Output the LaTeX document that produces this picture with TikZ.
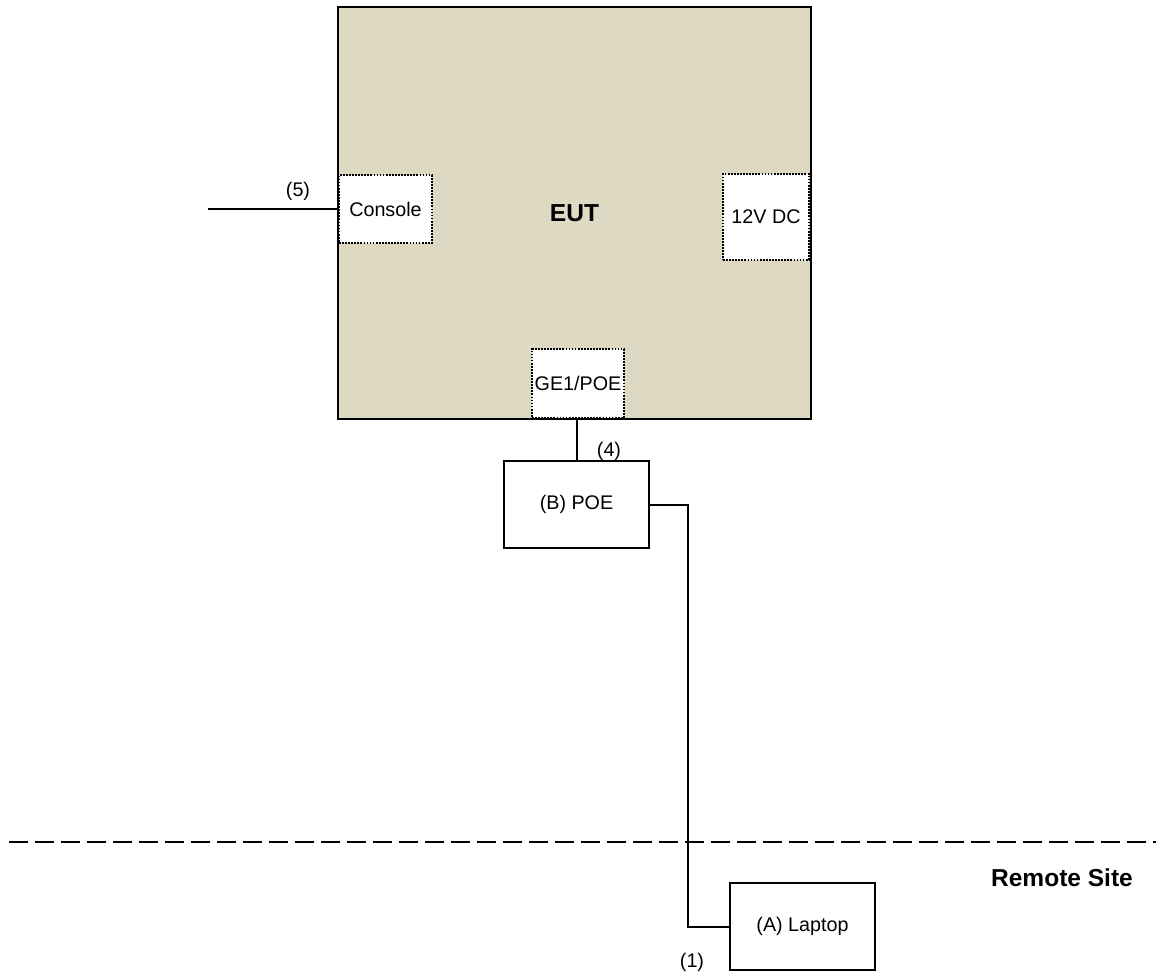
\documentclass[tikz,border=0pt]{standalone}
\usepackage{fontspec}
\setmainfont{Liberation Sans}
\definecolor{eutfill}{RGB}{221,217,195}
\begin{document}
\begin{tikzpicture}[x=0.75pt,y=-0.75pt,
  every node/.style={inner sep=0pt,outer sep=0pt},
  lbl/.style={font=\fontsize{14.8}{17}\selectfont},
  blbl/.style={font=\fontsize{18.4}{22}\selectfont\bfseries},
  eutbox/.style={draw=black,line width=1.5pt,fill=eutfill,blbl},
  portbox/.style={draw=black,fill=white,line width=1.4pt,dash pattern=on 1.3pt off 1.0pt,lbl},
  devbox/.style={draw=black,fill=white,line width=1.5pt,lbl},
  wire/.style={draw=black,line width=1.5pt},
  sep/.style={draw=black,line width=1.5pt,dash pattern=on 14.25pt off 5.25pt}]
\useasboundingbox (0,0) rectangle (1156,974);
\node[eutbox,minimum width=473*0.75pt,minimum height=412*0.75pt] (eut) at (574.5,213) {EUT};
\node[portbox,minimum width=93*0.75pt,minimum height=68*0.75pt] (console) at (385.5,209) {Console};
\node[portbox,minimum width=86*0.75pt,minimum height=86*0.75pt] (dc) at (766,217) {12V DC};
\node[portbox,minimum width=92*0.75pt,minimum height=69*0.75pt] (ge) at (578,383.5) {GE1/POE};
\node[devbox,minimum width=145*0.75pt,minimum height=87*0.75pt] (poe) at (576.5,504.5) {(B) POE};
\node[devbox,minimum width=145*0.75pt,minimum height=87*0.75pt] (laptop) at (802.5,926.5) {(A) Laptop};
\coordinate (c5) at (208,209);
\coordinate (bend) at (688,504.5);
\coordinate (dl) at (9,842);
\coordinate (dr) at (1156,842);
\draw[wire] (c5) -- (c5 -| console.west);
\draw[wire] (ge.south -| 577,0) -- (577,461);
\draw[wire] (poe.east) -- (bend) |- (laptop.west);
\draw[sep] (dl) -- (dr);
\node[lbl] (l5) at (298,191) {(5)};
\node[lbl] (l4) at (609,451) {(4)};
\node[lbl] (l1) at (692,962) {(1)};
\node[blbl] (remote) at (1062,878) {Remote Site};
\end{tikzpicture}
\end{document}
